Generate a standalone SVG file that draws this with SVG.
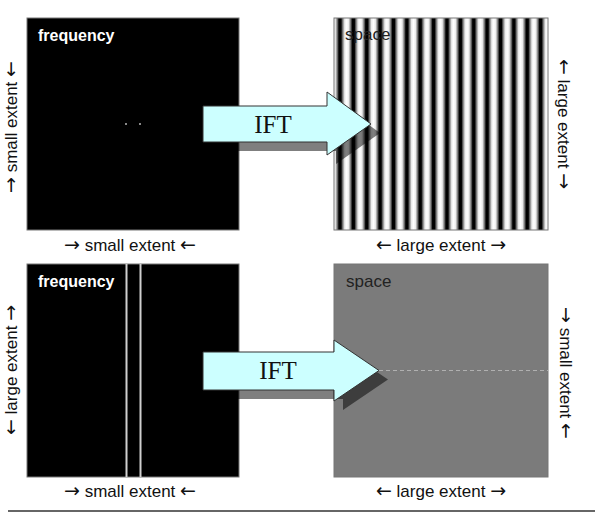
<svg xmlns="http://www.w3.org/2000/svg" width="595" height="516" viewBox="0 0 595 516">
<style>
.lbl{font-family:"Liberation Sans",Arial,sans-serif;font-size:17px;fill:#111;text-anchor:middle}
.ar{font-family:"DejaVu Sans",sans-serif;font-size:19px}
.freq{font-family:"Liberation Sans",Arial,sans-serif;font-size:16px;font-weight:bold;fill:#fff}
.space{font-family:"Liberation Sans",Arial,sans-serif;font-size:17px;fill:#222}
.ift{font-family:"Liberation Serif","Times New Roman",serif;font-size:25px;fill:#111;text-anchor:middle}
.box{stroke:#777;stroke-width:1}
.arrow{fill:#ccffff;stroke:#333;stroke-width:1}
.shadow{fill:#000;fill-opacity:0.5}
</style>
<defs>
<linearGradient id="stripes" gradientUnits="userSpaceOnUse" x1="333.3" y1="0" x2="346.675" y2="0" spreadMethod="repeat">
<stop offset="0" stop-color="#fff"/>
<stop offset="0.15" stop-color="#ececec"/>
<stop offset="0.32" stop-color="#666"/>
<stop offset="0.42" stop-color="#000"/>
<stop offset="0.58" stop-color="#000"/>
<stop offset="0.68" stop-color="#666"/>
<stop offset="0.85" stop-color="#ececec"/>
<stop offset="1" stop-color="#fff"/>
</linearGradient>
<path id="arrowTop" d="M203,106 H327 V92 L371,124 L327,155 V142 H203 Z"/>
<path id="arrowBot" d="M203,352 H334 V340 L379,370.5 L334,401 V390 H203 Z"/>
</defs>
<rect width="595" height="516" fill="#fff"/>

<g id="freq-top">
<rect class="box" x="27" y="18" width="212" height="212" fill="#000"/>
<rect x="125" y="123" width="2" height="2" fill="#888"/>
<rect x="139" y="123" width="2" height="2" fill="#888"/>
<text class="freq" x="38" y="41">frequency</text>
</g>

<g id="space-top">
<rect class="box" x="334" y="18" width="214" height="212" fill="url(#stripes)"/>
<text class="space" x="345" y="40">space</text>
</g>

<g id="freq-bottom">
<rect class="box" x="27" y="264" width="212" height="213" fill="#000"/>
<rect x="125.5" y="264" width="2" height="213" fill="#cfcfcf"/>
<rect x="139.5" y="264" width="2" height="213" fill="#cfcfcf"/>
<text class="freq" x="38" y="287">frequency</text>
</g>

<g id="space-bottom">
<rect class="box" x="334" y="264" width="214" height="213" fill="#7b7b7b"/>
<line x1="379" y1="370.5" x2="548" y2="370.5" stroke="#b0b0b0" stroke-width="1" stroke-dasharray="4,3"/>
<text class="space" x="346" y="287">space</text>
</g>

<g id="connectors">
<use href="#arrowTop" class="shadow" transform="translate(9,9)"/>
<use href="#arrowTop" class="arrow"/>
<text class="ift" x="273" y="133">IFT</text>
<use href="#arrowBot" class="shadow" transform="translate(9,9)"/>
<use href="#arrowBot" class="arrow"/>
<text class="ift" x="278" y="379">IFT</text>
</g>

<g id="labels">
<text class="lbl" x="130" y="251"><tspan class="ar">→</tspan> small extent <tspan class="ar">←</tspan></text>
<text class="lbl" x="441" y="251"><tspan class="ar">←</tspan> large extent <tspan class="ar">→</tspan></text>
<text class="lbl" x="130" y="497"><tspan class="ar">→</tspan> small extent <tspan class="ar">←</tspan></text>
<text class="lbl" x="441" y="497"><tspan class="ar">←</tspan> large extent <tspan class="ar">→</tspan></text>
<text class="lbl" transform="translate(17,127) rotate(-90)"><tspan class="ar">→</tspan> small extent <tspan class="ar">←</tspan></text>
<text class="lbl" transform="translate(17,370) rotate(-90)"><tspan class="ar">←</tspan> large extent <tspan class="ar">→</tspan></text>
<text class="lbl" transform="translate(558,124) rotate(90)"><tspan class="ar">←</tspan> large extent <tspan class="ar">→</tspan></text>
<text class="lbl" transform="translate(560,373) rotate(90)"><tspan class="ar">→</tspan> small extent <tspan class="ar">←</tspan></text>
</g>

<line x1="8" y1="511" x2="595" y2="511" stroke="#333" stroke-width="1.5"/>
</svg>
